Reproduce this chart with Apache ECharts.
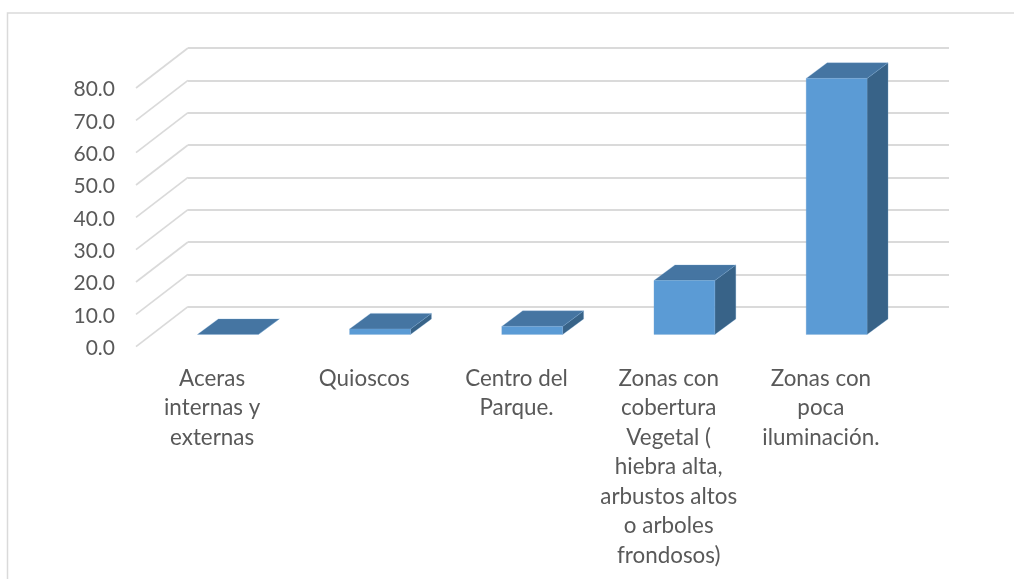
<!DOCTYPE html>
<html><head><meta charset="utf-8">
<style>html,body{margin:0;padding:0;background:#fff}#c{width:1014px;height:579px}</style>
<script src="https://cdn.jsdelivr.net/npm/echarts@6/dist/echarts.min.js"></script>
</head><body><div id="c"></div>
<script>
const categories = ['Aceras\ninternas y\nexternas','Quioscos','Centro del\nParque.','Zonas con\ncobertura\nVegetal (\nhiebra alta,\narbustos altos\no arboles\nfrondosos)','Zonas con\npoca\niluminación.'];
const values = [0, 1.7, 2.5, 16.7, 79.2];
const yTicks = [0,10,20,30,40,50,60,70,80];
const FONT = 'Lato';
const TEXT = '#595959', GRID = '#dadada';
const DEPTH_X = 52, DEPTH_Y = 40, BAR_DX = 21, BAR_DY = 15.6;
const chart = echarts.init(document.getElementById('c'), null, {renderer:'canvas'});
const vAxis = (i, show) => ({type:'value', gridIndex:i, min:0, max:80, interval:10,
  axisLine:{show:false}, axisTick:{show:false},
  splitLine:{show:i===2, lineStyle:{color:GRID, width:2}},
  axisLabel:{show, margin:21, formatter:v=>'{n|'+v.toFixed(1)+'}',
    rich:{n:{color:TEXT, fontFamily:FONT, fontSize:21, padding:[3,0,0,0]}}}});
const cAxis = (i, show) => ({type:'category', gridIndex:i, data:categories,
  axisLine:{show:false}, axisTick:{show:false}, splitLine:{show:false},
  axisLabel:{show, interval:0, color:TEXT, fontFamily:FONT, fontSize:22.4, lineHeight:29.5, margin:17, align:'center', verticalAlign:'top'}});
chart.setOption({
  animation:false,
  backgroundColor:'#fff',
  graphic:[{type:'rect', silent:true, z:-1, shape:{x:7.5,y:13,width:1100,height:700}, style:{fill:'none', stroke:GRID, lineWidth:1.5}}],
  grid:[
    {left:136, top:88,   width:761, height:258.7},
    {left:152, top:75.8, width:761, height:258.7},
    {left:188, top:48,   width:761, height:258.7}
  ],
  xAxis:[cAxis(0,true), cAxis(1,false), cAxis(2,false)],
  yAxis:[vAxis(0,true), vAxis(1,false), vAxis(2,false)],
  series:[
    {type:'custom', name:'walls', xAxisIndex:0, yAxisIndex:0, silent:true, z:1,
     data:yTicks.map(v=>[0,v]), encode:{x:0,y:1},
     renderItem:(p,api)=>{
       const c=api.coord([0,api.value(1)]), w=api.size([1,0])[0], x=c[0]-w/2;
       return {type:'line', shape:{x1:x,y1:c[1],x2:x+DEPTH_X,y2:c[1]-DEPTH_Y}, style:{stroke:GRID,lineWidth:1.7}};
     }},
    {type:'custom', name:'bars', xAxisIndex:1, yAxisIndex:1, z:3,
     data:values.map((v,i)=>[i,v]), encode:{x:0,y:1},
     renderItem:(p,api)=>{
       const i=api.value(0), v=api.value(1);
       const top=api.coord([i,v]), base=api.coord([i,0]), w=api.size([1,0])[0]*0.4;
       const l=top[0]-w/2-0.3, r=l+w, t=top[1], b=base[1];
       const edge={stroke:'rgba(120,170,215,0.45)', lineWidth:0.6, lineJoin:'round'};
       const kids=[
         {type:'polygon', shape:{points:[[r,b],[r+BAR_DX,b-BAR_DY],[r+BAR_DX,t-BAR_DY],[r,t]]}, style:{fill:'#386388',...edge}},
         {type:'polygon', shape:{points:[[l,t],[r,t],[r+BAR_DX,t-BAR_DY],[l+BAR_DX,t-BAR_DY]]}, style:{fill:'#4575a2',...edge}}
       ];
       if(b-t>0.1) kids.push({type:'rect', shape:{x:l,y:t,width:w,height:b-t}, style:{fill:'#5b9bd5',...edge}});
       return {type:'group', children:kids};
     }}
  ]
});
</script></body></html>
